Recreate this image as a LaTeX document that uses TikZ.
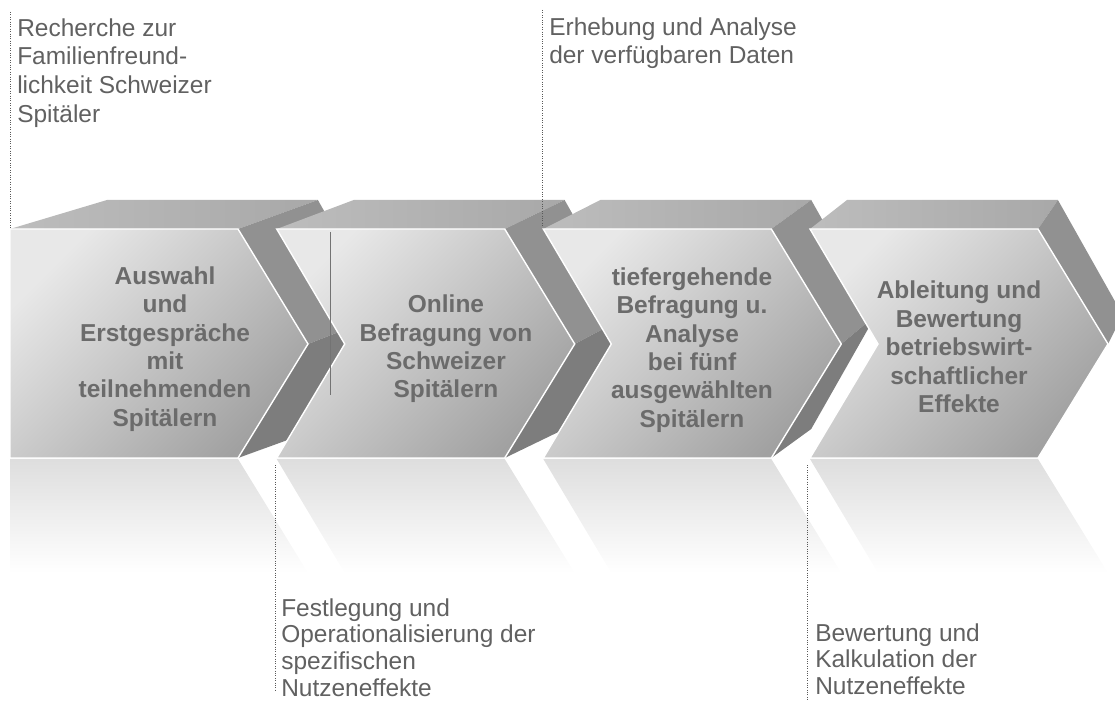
\documentclass[tikz,border=0pt]{standalone}
\usepackage{fontspec}
\setmainfont{Liberation Sans}
\usepackage{tikz}
\usepackage{xcolor}
\usetikzlibrary{positioning}
\tikzstyle{deckel} = [left color=black!26, right color=black!34]
\tikzstyle{seiteoben} = [fill=black!43]
\tikzstyle{seiteunten} = [fill=black!51]
\tikzstyle{front} = [top color=black!9, bottom color=black!37, shading angle=45, draw=white, line width=1pt, line join=miter]
\tikzstyle{spiegel} = [top color=black!13, bottom color=white]
\tikzstyle{stufentext} = [align=center, inner sep=0pt, text=black!58, font=\bfseries\fontsize{17.4}{20.2}\selectfont]
\tikzstyle{notiz} = [anchor=north west, align=left, inner sep=0pt, text=black!62, font=\fontsize{17.4}{20.4}\selectfont]
\tikzstyle{notizunten} = [notiz, font=\fontsize{17.4}{19.1}\selectfont]
\tikzstyle{punktlinie} = [densely dotted, line width=0.7pt, black!65]
\newcommand{\stufe}[3]{%
  \pgfmathsetmacro\sxl{#1}
  \pgfmathsetmacro\sxr{#1+228}
  \pgfmathsetmacro\sxt{#1+298}
  \pgfmathsetmacro\sxn{#1+#2}
  \pgfmathsetmacro\sbl{\sxl+97-0.075*(\sxl-10)}
  \pgfmathsetmacro\sbr{\sxr+97-0.075*(\sxr-10)}
  \pgfmathsetmacro\sbt{\sxt+97-0.075*(\sxt-10)}
  \shade[deckel] (\sxl,229) -- (\sxr,229) -- (\sbr,200) -- (\sbl,200) -- cycle;
  \fill[seiteoben] (\sxr,229) -- (\sxt,344) -- (\sbt,315) -- (\sbr,200) -- cycle;
  \path[#3] (\sxt,344) -- (\sxr,458) -- (\sbr,429) -- (\sbt,315) -- cycle;
  \shade[front] (\sxl,229) -- (\sxr,229) -- (\sxt,344) -- (\sxr,458) -- (\sxl,458) -- (\sxn,344) -- cycle;
}
\newcommand{\spiegelung}[2]{%
  \shade[spiegel] (#1,459) -- (#1+228,459) -- (#1+298,573) -- (#1+#2,573) -- cycle;
}
\begin{document}
\begin{tikzpicture}[x=0.025cm, y=-0.025cm]
  \useasboundingbox (0,0) rectangle (1115,701);
  \spiegelung{10}{0}
  \spiegelung{276.7}{68}
  \spiegelung{543.3}{68}
  \spiegelung{810}{68}
  \stufe{10}{0}{seiteunten}
  \stufe{276.7}{68}{seiteunten}
  \draw[black!55, line width=0.6pt] (330,232) -- (330,395);
  \stufe{543.3}{68}{seiteunten}
  \stufe{810}{68}{}

  \node (auswahl) [stufentext] at (165,349) {Auswahl\\und\\Erstgespräche\\mit\\teilnehmenden\\Spitälern};
  \node (online) [stufentext] at (446,349) {Online\\Befragung von\\Schweizer\\Spitälern};
  \node (tiefe) [stufentext] at (692,350) {tiefergehende\\Befragung u.\\Analyse\\bei fünf\\ausgewählten\\Spitälern};
  \node (ableitung) [stufentext] at (959,347) {Ableitung und\\Bewertung\\betriebswirt-\\schaftlicher\\Effekte};

  \node (recherche) [notiz] at (17,18) {Recherche zur\\Familienfreund-\\lichkeit Schweizer\\Spitäler};
  \node (erhebung) [notiz] at (549,17) {Erhebung und Analyse\\der verfügbaren Daten};
  \node (festlegung) [notizunten] at (281,598) {Festlegung und\\Operationalisierung der\\spezifischen\\Nutzeneffekte};
  \node (bewertung) [notizunten] at (815,623) {Bewertung und\\Kalkulation der\\Nutzeneffekte};

  \coordinate (p1o) at (10,12);
  \coordinate (p1u) at (10,229);
  \coordinate (p2o) at (542,10);
  \coordinate (p2u) at (542,226);
  \coordinate (p3o) at (275,465);
  \coordinate (p3u) at (275,690);
  \coordinate (p4o) at (807,465);
  \coordinate (p4u) at (807,701);
  \draw [punktlinie] (p1o) -- (p1u);
  \draw [punktlinie] (p2o) -- (p2u);
  \draw [punktlinie] (p3o) -- (p3u);
  \draw [punktlinie] (p4o) -- (p4u);
\end{tikzpicture}
\end{document}
